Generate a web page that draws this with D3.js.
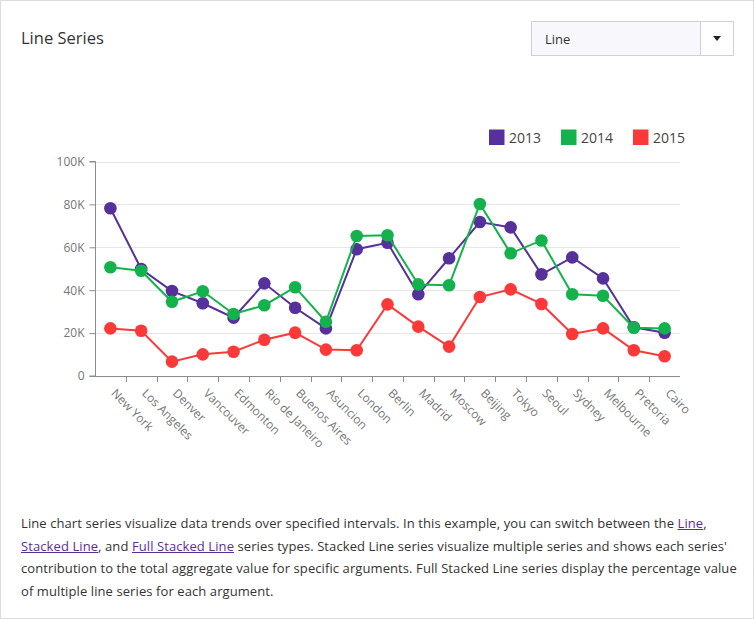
<!DOCTYPE html>
<html>
<head>
<meta charset="utf-8">
<script src="https://cdn.jsdelivr.net/npm/d3@7/dist/d3.min.js"></script>
<style>
  html, body { margin: 0; padding: 0; background: #fff; }
  body { width: 754px; height: 619px; position: relative; overflow: hidden; font-family: "Open Sans", "Noto Sans", sans-serif; }
  #frame { position: absolute; left: 0; top: 0; width: 752px; height: 617px; border: 1px solid #dcdcdc; }
  #title { position: absolute; left: 21px; top: 26px; font-size: 16.5px; color: #333; letter-spacing: 0px; }
  #dd { position: absolute; left: 531px; top: 21px; width: 201px; height: 33px; border: 1px solid #cfcfd4; background: #f8f7fc; box-sizing: content-box; }
  #dd .val { position: absolute; left: 13px; top: 8px; font-size: 13px; color: #333; }
  #dd .btn { position: absolute; right: 0; top: 0; width: 32px; height: 33px; background: #fff; border-left: 1px solid #cfcfd4; }
  #dd .arr { position: absolute; left: 12px; top: 14px; width: 0; height: 0; border-left: 4px solid transparent; border-right: 4px solid transparent; border-top: 5px solid #222; }
  #desc { position: absolute; left: 21px; top: 512px; font-size: 13px; line-height: 22.5px; color: #333; white-space: nowrap; letter-spacing: 0.09px; }
  #desc a { color: #5a2d9b; text-decoration: underline; }
  svg { position: absolute; left: 0; top: 0; }
</style>
</head>
<body>
<div id="frame"></div>
<div id="title">Line Series</div>
<div id="dd"><span class="val">Line</span><div class="btn"><div class="arr"></div></div></div>
<svg id="chart" width="754" height="500"></svg>
<div id="desc">Line chart series visualize data trends over specified intervals. In this example, you can switch between the <a>Line</a>,<br><a>Stacked Line</a>, and <a>Full Stacked Line</a> series types. Stacked Line series visualize multiple series and shows each series'<br>contribution to the total aggregate value for specific arguments. Full Stacked Line series display the percentage value<br>of multiple line series for each argument.</div>
<script>
const cities = ["New York","Los Angeles","Denver","Vancouver","Edmonton","Rio de Janeiro","Buenos Aires","Asuncion","London","Berlin","Madrid","Moscow","Beijing","Tokyo","Seoul","Sydney","Melbourne","Pretoria","Cairo"];
const years = ["2013","2014","2015"];
const values2013 = [78200,49900,39600,33900,27200,43200,31800,22200,59100,62100,38100,54900,71800,69300,47400,55300,45500,22700,20200];
const values2014 = [50700,49100,34600,39500,28900,33000,41400,25300,65300,65600,42700,42300,80200,57200,63200,38100,37400,22500,22200];
const values2015 = [22200,21100,6700,10100,11300,16900,20200,12300,12000,33400,23000,13700,36800,40400,33600,19600,22200,12000,9200];
const yTicks = [0,20000,40000,60000,80000,100000];
const colors = ["#56309b","#13b24c","#fb3939"];
const seriesValues = [values2013, values2014, values2015];

const svg = d3.select("#chart");
const x = d3.scaleBand().domain(cities).range([95, 680]);
const y = d3.scaleLinear().domain([0, 100000]).range([376, 161.5]);
const font = "'Open Sans', 'Noto Sans', sans-serif";

// gridlines
svg.append("g").selectAll("line").data(yTicks.filter(d => d > 0)).join("line")
  .attr("x1", 95).attr("x2", 680)
  .attr("y1", d => Math.round(y(d)) + 0.5).attr("y2", d => Math.round(y(d)) + 0.5)
  .attr("stroke", "#e6e6e6").attr("stroke-width", 1);

// y axis
const yAxis = svg.append("g").attr("transform", "translate(95.5,0)")
  .call(d3.axisLeft(y).tickValues(yTicks).tickSize(6).tickPadding(5)
    .tickFormat(d => d === 0 ? "0" : (d / 1000) + "K"));
yAxis.select(".domain").attr("stroke", "#8c8c8c").attr("d", `M-6,${y(100000)}H0V${y(0)}H-6`);
yAxis.selectAll(".tick line").attr("stroke", "#8c8c8c");
yAxis.selectAll(".tick text").attr("fill", "#767676").style("font-family", font).style("font-size", "12px");

// x axis
const xa = svg.append("g");
xa.append("line").attr("x1", 95).attr("x2", 680).attr("y1", 376.5).attr("y2", 376.5).attr("stroke", "#8c8c8c");
xa.selectAll("line.t").data(cities.slice(1)).join("line").attr("class", "t")
  .attr("x1", d => Math.round(x(d)) + 0.5).attr("x2", d => Math.round(x(d)) + 0.5)
  .attr("y1", 376).attr("y2", 382).attr("stroke", "#8c8c8c");
xa.selectAll("text").data(cities).join("text")
  .attr("transform", d => `translate(${x(d) + x.bandwidth() / 2 + 3},${391}) rotate(45)`)
  .attr("dy", "0.35em")
  .attr("fill", "#767676").style("font-family", font).style("font-size", "12px")
  .text(d => d);

// lines and points
const line = d3.line().x((d, i) => x(cities[i]) + x.bandwidth() / 2).y(d => y(d));
seriesValues.forEach((vals, si) => {
  const g = svg.append("g");
  g.append("path").datum(vals).attr("d", line).attr("fill", "none")
    .attr("stroke", colors[si]).attr("stroke-width", 2);
  g.selectAll("circle").data(vals).join("circle")
    .attr("cx", (d, i) => x(cities[i]) + x.bandwidth() / 2).attr("cy", d => y(d))
    .attr("r", 6.3).attr("fill", colors[si]);
});

// legend
const legX = [489, 561, 633];
const lg = svg.append("g");
years.forEach((yr, i) => {
  lg.append("rect").attr("x", legX[i]).attr("y", 129.5).attr("width", 15.5).attr("height", 15.5).attr("fill", colors[i]);
  lg.append("text").attr("x", legX[i] + 20).attr("y", 143).attr("fill", "#444")
    .style("font-family", font).style("font-size", "14px").text(yr);
});
</script>
</body>
</html>
